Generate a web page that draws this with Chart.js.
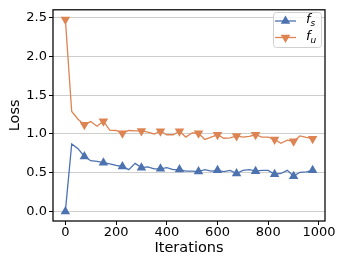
<!DOCTYPE html>
<html>
<head>
<meta charset="utf-8">
<script src="https://cdn.jsdelivr.net/npm/chart.js@4/dist/chart.umd.min.js"></script>
<style>
    html, body { margin: 0; padding: 0; background: #fff; }
    #wrap { width: 345px; height: 264px; }
</style>
</head>
<body>
<div id="wrap"><canvas id="loss-chart" width="345" height="264"></canvas></div>
<script>
const iterations = [0, 25, 50, 75, 100, 125, 150, 175, 200, 225, 250, 275, 300, 325, 350, 375, 400, 425, 450, 475,
    500, 525, 550, 575, 600, 625, 650, 675, 700, 725, 750, 775, 800, 825, 850, 875, 900, 925, 950, 975];
const lossFs = [0.0, 0.87, 0.81, 0.71, 0.655, 0.645, 0.63, 0.615, 0.595, 0.58, 0.54, 0.62, 0.565, 0.575, 0.55, 0.55, 0.565, 0.54, 0.54, 0.52,
    0.52, 0.515, 0.54, 0.52, 0.53, 0.515, 0.53, 0.49, 0.53, 0.54, 0.52, 0.53, 0.53, 0.48, 0.49, 0.53, 0.455, 0.505, 0.51, 0.53];
const lossFu = [2.48, 1.29, 1.19, 1.12, 1.16, 1.10, 1.165, 1.05, 1.045, 1.01, 1.045, 1.04, 1.04, 1.025, 1.0, 1.035, 0.99, 0.99, 1.035, 0.96,
    1.015, 1.01, 0.93, 0.96, 0.99, 0.945, 0.95, 0.975, 0.96, 0.97, 0.99, 0.96, 0.96, 0.93, 0.88, 0.92, 0.905, 0.975, 0.955, 0.94];
const seriesLabels = ['f_s', 'f_u'];
const xTicks = [0, 200, 400, 600, 800, 1000];
const yTicks = [0.0, 0.5, 1.0, 1.5, 2.0, 2.5];

const BLUE = '#4c72b0';
const ORANGE = '#dd8452';
const FONT = "'DejaVu Sans', sans-serif";

const toPoints = (ys) => ys.map((y, i) => ({ x: iterations[i], y: y }));
const markEvery = (r) => (ctx) => (ctx.dataIndex % 3 === 0 ? r : 0);

// spines + legend drawn by hand (matplotlib style)
const framePlugin = {
    id: 'frame',
    afterDraw(chart) {
        const { ctx, chartArea: a } = chart;
        ctx.save();
        ctx.strokeStyle = '#000';
        ctx.lineWidth = 1.25;
        ctx.strokeRect(a.left, a.top, a.right - a.left, a.bottom - a.top);

        // legend box
        const bx = 273, by = 12, bw = 48, bh = 35;
        ctx.beginPath();
        ctx.roundRect(bx + 0.5, by + 0.5, bw, bh, 3);
        ctx.fillStyle = 'rgba(255,255,255,0.8)';
        ctx.fill();
        ctx.strokeStyle = '#d0d0d0';
        ctx.lineWidth = 1;
        ctx.stroke();

        chart.data.datasets.forEach((ds, i) => {
            const y = by + 9 + i * 16.5;
            ctx.strokeStyle = ds.borderColor;
            ctx.lineWidth = 1.3;
            ctx.beginPath();
            ctx.moveTo(bx + 2, y);
            ctx.lineTo(bx + 23, y);
            ctx.stroke();
            ctx.fillStyle = ds.borderColor;
            Chart.helpers.drawPoint(ctx, {
                pointStyle: 'triangle', radius: 5.5, rotation: ds.pointRotation, borderWidth: 0
            }, bx + 12.5, y);

            const [base, sub] = seriesLabels[i].split('_');
            ctx.fillStyle = '#000';
            ctx.textBaseline = 'middle';
            ctx.textAlign = 'left';
            ctx.font = 'italic 13px ' + FONT;
            ctx.fillText(base, bx + 33, y - 1);
            const w = ctx.measureText(base).width;
            ctx.font = 'italic 9px ' + FONT;
            ctx.fillText(sub, bx + 33 + w, y + 3);
        });
        ctx.restore();
    }
};

new Chart(document.getElementById('loss-chart'), {
    type: 'line',
    data: {
        datasets: [{
            label: seriesLabels[0],
            data: toPoints(lossFs),
            borderColor: BLUE,
            backgroundColor: BLUE,
            borderWidth: 1.3,
            pointStyle: 'triangle',
            pointRadius: markEvery(5.5),
            pointRotation: 0,
            pointBorderWidth: 0,
            tension: 0
        }, {
            label: seriesLabels[1],
            data: toPoints(lossFu),
            borderColor: ORANGE,
            backgroundColor: ORANGE,
            borderWidth: 1.3,
            pointStyle: 'triangle',
            pointRadius: markEvery(5.5),
            pointRotation: 180,
            pointBorderWidth: 0,
            tension: 0
        }]
    },
    options: {
        responsive: false,
        animation: false,
        layout: { padding: { top: 5, right: 20, left: 0, bottom: 0 } },
        plugins: { legend: { display: false }, tooltip: { enabled: false } },
        scales: {
            x: {
                type: 'linear',
                min: -48.75,
                max: 1023.75,
                afterBuildTicks: (s) => { s.ticks = xTicks.map(v => ({ value: v })); },
                afterFit: (s) => { s.height = 43; },
                grid: { display: true, drawOnChartArea: false, drawTicks: true, tickLength: 4, tickColor: '#000', tickWidth: 1 },
                border: { display: false },
                ticks: { padding: 0, color: '#000', font: { family: FONT, size: 13 }, maxRotation: 0, callback: (v) => String(v) },
                title: { display: true, text: 'Iterations', color: '#000', font: { family: FONT, size: 14.5 }, padding: { top: 0, bottom: 7 } }
            },
            y: {
                min: -0.124,
                max: 2.604,
                afterBuildTicks: (s) => { s.ticks = yTicks.map(v => ({ value: v })); },
                afterFit: (s) => { s.width = 53; },
                grid: { color: '#c8c8c8', lineWidth: 0.9, drawTicks: true, tickLength: 4, tickColor: '#000', tickWidth: 1 },
                border: { display: false },
                ticks: { padding: 2, color: '#000', font: { family: FONT, size: 13 }, callback: (v) => v.toFixed(1) },
                title: { display: true, text: 'Loss', color: '#000', font: { family: FONT, size: 14.5 }, padding: { top: 7, bottom: 0 } }
            }
        }
    },
    plugins: [framePlugin]
});
</script>
</body>
</html>
